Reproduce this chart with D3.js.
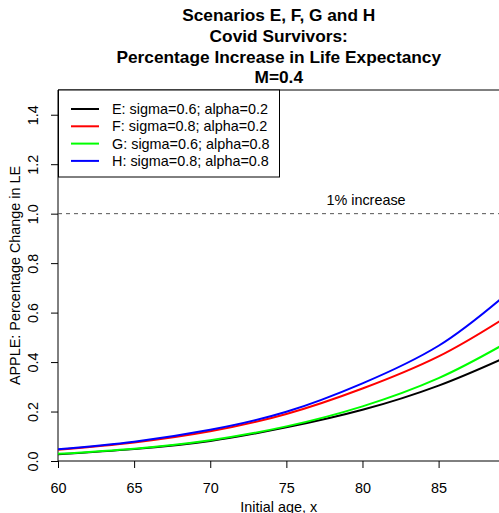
<!DOCTYPE html>
<html>
<head>
<meta charset="utf-8">
<script src="https://cdn.jsdelivr.net/npm/d3@7"></script>
<style>
  html, body { margin: 0; padding: 0; background: #fff; }
  svg { display: block; font-family: "Liberation Sans", Arial, Helvetica, sans-serif; }
</style>
</head>
<body>
<script>
// Initial ages at which each scenario is plotted
const ages = [60, 65, 70, 75, 80, 85, 89];

// Percentage change in life expectancy for each scenario
const seriesE = [0.027, 0.048, 0.081, 0.136, 0.207, 0.305, 0.408];
const seriesF = [0.045, 0.075, 0.120, 0.190, 0.293, 0.423, 0.565];
const seriesG = [0.029, 0.050, 0.084, 0.140, 0.221, 0.335, 0.462];
const seriesH = [0.047, 0.078, 0.126, 0.199, 0.314, 0.466, 0.651];

const seriesNames = [
  "E: sigma=0.6; alpha=0.2",
  "F: sigma=0.8; alpha=0.2",
  "G: sigma=0.6; alpha=0.8",
  "H: sigma=0.8; alpha=0.8"
];
const seriesColors = ["#000000", "#ff0000", "#00ff00", "#0000ff"];

const xTicks = [60, 65, 70, 75, 80, 85];
const yTicks = [0.0, 0.2, 0.4, 0.6, 0.8, 1.0, 1.2, 1.4];
const referenceLevel = 1.0;
const referenceLabel = "1% increase";

const titleLines = [
  "Scenarios E, F, G and H",
  "Covid Survivors:",
  "Percentage Increase in Life Expectancy",
  "M=0.4"
];
const xLabel = "Initial age, x";
const yLabel = "APPLE: Percentage Change in LE";

const W = 499, H = 513;
const plot = { left: 58, right: 499.5, top: 90, bottom: 461 };
const baseFont = 14.4;
const titleFont = 17.3;

const svg = d3.select("body").append("svg")
  .attr("width", W).attr("height", H);

const x = d3.scaleLinear().domain([60, 89]).range([plot.left, plot.right]);
const y = d3.scaleLinear().domain([0, 1.5]).range([plot.bottom, plot.top]);

// Title
const titleCx = (plot.left + plot.right) / 2;
svg.append("g").selectAll("text").data(titleLines).join("text")
  .attr("x", titleCx)
  .attr("y", (d, i) => 21.3 + i * 20.7)
  .attr("text-anchor", "middle")
  .attr("font-weight", "bold")
  .attr("font-size", titleFont)
  .attr("fill", "#000")
  .text(d => d);

// Clip region for data
svg.append("clipPath").attr("id", "plotclip")
  .append("rect")
  .attr("x", plot.left).attr("y", plot.top)
  .attr("width", plot.right - plot.left).attr("height", plot.bottom - plot.top);

// Axes
const xAxis = d3.axisBottom(x).tickValues(xTicks).tickSize(7).tickPadding(0)
  .tickFormat(d3.format("d"));
const gx = svg.append("g")
  .attr("transform", `translate(0,${plot.bottom})`)
  .call(xAxis);
gx.select(".domain").remove();
gx.selectAll("text")
  .attr("font-size", baseFont).attr("fill", "#000").attr("font-family", null)
  .attr("y", 32).attr("dy", null);
gx.selectAll("line").attr("stroke", "#000");

const yAxis = d3.axisLeft(y).tickValues(yTicks).tickSize(7).tickPadding(0)
  .tickFormat(d3.format(".1f"));
const gy = svg.append("g")
  .attr("transform", `translate(${plot.left},0)`)
  .call(yAxis);
gy.select(".domain").remove();
gy.selectAll("text")
  .attr("font-size", baseFont).attr("fill", "#000").attr("font-family", null)
  .attr("x", null).attr("dy", null)
  .attr("text-anchor", "middle")
  .attr("transform", "translate(-20,0) rotate(-90)");
gy.selectAll("line").attr("stroke", "#000");

// Plot frame
svg.append("path")
  .attr("d", `M${plot.right + 2},${plot.top}H${plot.left}V${plot.bottom}H${plot.right + 2}`)
  .attr("fill", "none").attr("stroke", "#000").attr("stroke-width", 1);

// Axis titles
svg.append("text")
  .attr("x", titleCx)
  .attr("y", 511.5)
  .attr("text-anchor", "middle")
  .attr("font-size", baseFont)
  .text(xLabel);

svg.append("text")
  .attr("transform", `translate(20,${(plot.top + plot.bottom) / 2}) rotate(-90)`)
  .attr("text-anchor", "middle")
  .attr("font-size", baseFont)
  .text(yLabel);

// Reference line at 1%
svg.append("line")
  .attr("x1", plot.left).attr("x2", plot.right)
  .attr("y1", y(referenceLevel)).attr("y2", y(referenceLevel))
  .attr("stroke", "#555").attr("stroke-width", 1)
  .attr("stroke-dasharray", "4,4");
svg.append("text")
  .attr("x", 366)
  .attr("y", y(referenceLevel) - 9)
  .attr("text-anchor", "middle")
  .attr("font-size", baseFont)
  .text(referenceLabel);

// Scenario curves
const allSeries = [seriesE, seriesF, seriesG, seriesH];
const line = d3.line()
  .x((d, i) => x(ages[i]))
  .y(d => y(d))
  .curve(d3.curveNatural);
svg.append("g").attr("clip-path", "url(#plotclip)")
  .selectAll("path").data(allSeries).join("path")
  .attr("d", d => line(d))
  .attr("fill", "none")
  .attr("stroke", (d, i) => seriesColors[i])
  .attr("stroke-width", 2);

// Legend
const legend = svg.append("g");
legend.append("rect")
  .attr("x", plot.left + 0.5).attr("y", plot.top)
  .attr("width", 221).attr("height", 87)
  .attr("fill", "#fff").attr("stroke", "#000").attr("stroke-width", 1);
const rows = legend.selectAll("g.row").data(seriesNames).join("g")
  .attr("class", "row")
  .attr("transform", (d, i) => `translate(0,${109 + i * 17.3})`);
rows.append("line")
  .attr("x1", 71).attr("x2", 99)
  .attr("stroke", (d, i) => seriesColors[i]).attr("stroke-width", 2);
rows.append("text")
  .attr("x", 112).attr("y", 5)
  .attr("font-size", baseFont)
  .text(d => d);
</script>
</body>
</html>
